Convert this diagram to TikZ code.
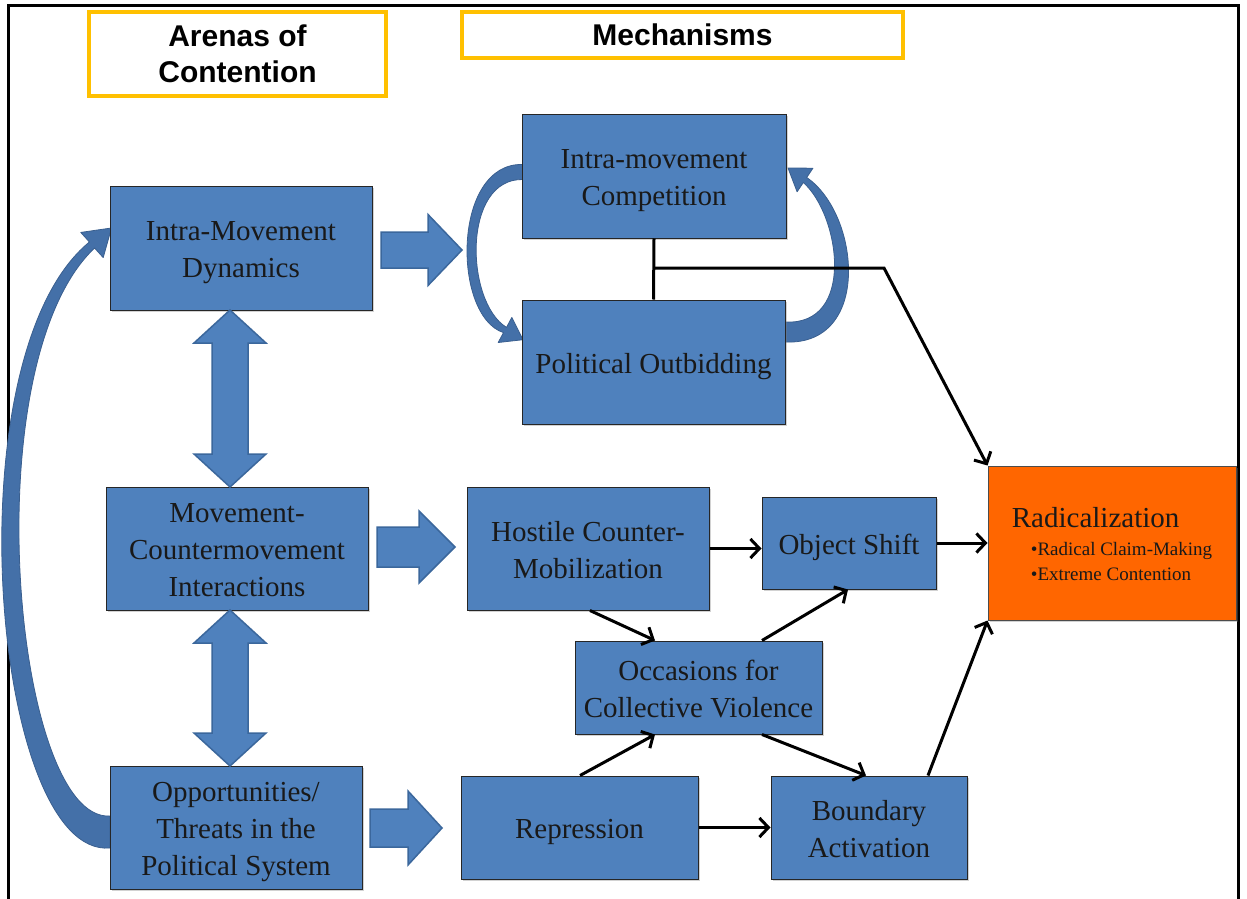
\documentclass[tikz,border=0pt]{standalone}
\usepackage{fontspec}
\setmainfont{Liberation Serif}
\newfontfamily\hdfont{Liberation Sans}
\usetikzlibrary{arrows.meta,shadows}
\definecolor{boxblue}{HTML}{4F81BD}
\definecolor{arrowedge}{HTML}{3B679C}
\definecolor{curveblue}{HTML}{4470A8}
\definecolor{radorange}{HTML}{FF6600}
\definecolor{hdyellow}{HTML}{FFC000}
% text block lowered by 4pt inside its box
\newcommand\btext[2][c]{\raisebox{0pt}[\dimexpr\height+8pt\relax][\depth]{\begin{tabular}{@{}#1@{}}#2\end{tabular}}}
\begin{document}
\begin{tikzpicture}[x=1pt,y=-1pt,
  box/.style={draw=black!85, line width=1pt, fill=boxblue, inner sep=0pt,
    font=\fontsize{29}{37}\selectfont, text=black!90,
    drop shadow={shadow xshift=1.5pt, shadow yshift=-1.5pt, opacity=0.35}},
  hdbox/.style={draw=hdyellow, line width=4pt, fill=white, inner sep=0pt, align=center,
    font=\hdfont\bfseries\fontsize{30}{36}\selectfont},
  conn/.style={line width=3pt, -{Straight Barb[length=9pt,width=19pt]}},
  plainline/.style={line width=3pt},
  blockarrow/.style={fill=boxblue, draw=arrowedge, line width=1.5pt, line join=miter},
  curvearrow/.style={fill=curveblue, draw=curveblue!85!black, line width=0.8pt, line join=round},
]
\useasboundingbox (0,0) rectangle (1247,899);
\fill[white] (0,0) rectangle (1247,899);
% outer frame
\draw[line width=3pt] (8,899) -- (8,6) -- (1238,6) -- (1238,899);

% curved arrows (drawn below boxes)
\draw[curvearrow] (110,848) .. controls (-8,858) and (-50,356) .. (89.4,242)
  -- (80.8,232.4) -- (111.5,228) -- (103.2,257.6) -- (94.6,248)
  .. controls (-28,364) and (14,822) .. (110,816) -- cycle;
\draw[curvearrow] (523,164.5) .. controls (452,162) and (452,316) .. (503.5,332.6)
  -- (498.2,342.5) -- (523,339.7) -- (511.8,317.5) -- (506.5,327.4)
  .. controls (465,302) and (462,178) .. (523,179.5) -- cycle;
\draw[curvearrow] (785,342) .. controls (872,346) and (860,214) .. (806.7,177.5)
  -- (812.9,168.2) -- (788,168) -- (797.1,191.8) -- (803.3,182.5)
  .. controls (840,215) and (856,326) .. (785,322) -- cycle;

% headers
\node[hdbox, minimum width=297, minimum height=84] (hd1) at (237.5,54) {Arenas of\\Contention};
\node[hdbox, minimum width=441, minimum height=46] (hd2) at (682.5,35) {Mechanisms};

% boxes
\node[box, minimum width=262, minimum height=124] (imd) at (241,248) {\btext{Intra-Movement\\Dynamics}};
\node[box, minimum width=264, minimum height=124] (imc) at (654,176) {\btext{Intra-movement\\Competition}};
\node[box, minimum width=263, minimum height=124] (po) at (653.5,362) {\btext{Political Outbidding}};
\node[box, minimum width=262, minimum height=123] (mci) at (237,548.5) {\btext{Movement-\\Countermovement\\Interactions}};
\node[box, minimum width=242, minimum height=123] (hcm) at (588,548.5) {\btext{Hostile Counter-\\Mobilization}};
\node[box, minimum width=174, minimum height=92] (os) at (849,543) {\btext{Object Shift}};
\node[box, minimum width=247, minimum height=93] (ocv) at (698.5,687.5) {\btext{Occasions for\\Collective Violence}};
\node[box, minimum width=252, minimum height=123] (otp) at (236,827.5) {\btext{Opportunities/\\Threats in the\\Political System}};
\node[box, minimum width=237, minimum height=103] (rep) at (579.5,827.5) {\btext{Repression}};
\node[box, minimum width=196, minimum height=103] (ba) at (869,827.5) {\btext{Boundary\\Activation}};
\node[box, fill=radorange, draw=black!70, minimum width=248, minimum height=154,
      font=\fontsize{19}{25}\selectfont] (rad) at (1112,543)
  {\raisebox{0pt}[\dimexpr\height+10pt\relax][\depth]{\begin{tabular}{@{}l@{}}
   \fontsize{29}{29}\selectfont Radicalization\\[3pt]
   \hspace*{19pt}\textbullet Radical Claim-Making\\
   \hspace*{19pt}\textbullet Extreme Contention\end{tabular}}};

% block arrows
\draw[blockarrow] (381,232) -- (428,232) -- (428,214.5) -- (462,250) -- (428,285.5) -- (428,268) -- (381,268) -- cycle;
\draw[blockarrow] (377,527) -- (419,527) -- (419,511) -- (455,547) -- (419,583) -- (419,567) -- (377,567) -- cycle;
\draw[blockarrow] (370,809) -- (408,809) -- (408,791) -- (442,828) -- (408,865) -- (408,847) -- (370,847) -- cycle;
% double vertical arrows
\draw[blockarrow] (230,310) -- (266,343) -- (248,343) -- (248,454) -- (266,454) -- (230,487)
  -- (194,454) -- (212,454) -- (212,343) -- (194,343) -- cycle;
\draw[blockarrow] (230,610) -- (266,643) -- (248,643) -- (248,733) -- (266,733) -- (230,766)
  -- (194,733) -- (212,733) -- (212,643) -- (194,643) -- cycle;

% connectors
\coordinate (junc) at (654,268);
\coordinate (bend) at (884,268);
\draw[plainline] (imc.south) -- (po.north);
\draw[conn] (junc) -- (bend) -- (rad.north west);
\draw[conn] (hcm.east) -- (hcm.east -| os.west);
\draw[conn] (os.east) -- (os.east -| rad.west);
\draw[conn] ([xshift=2pt]hcm.south) -- ([xshift=-43.5pt]ocv.north);
\draw[conn] ([xshift=63.5pt]ocv.north) -- ([xshift=-1pt]os.south);
\draw[conn] ([xshift=0.5pt]rep.north) -- ([xshift=-43.5pt]ocv.south);
\draw[conn] ([xshift=63.5pt]ocv.south) -- ([xshift=-3pt]ba.north);
\draw[conn] (rep.east) -- (rep.east -| ba.west);
\draw[conn] ([xshift=59pt]ba.north) -- (rad.south west);
\end{tikzpicture}
\end{document}
